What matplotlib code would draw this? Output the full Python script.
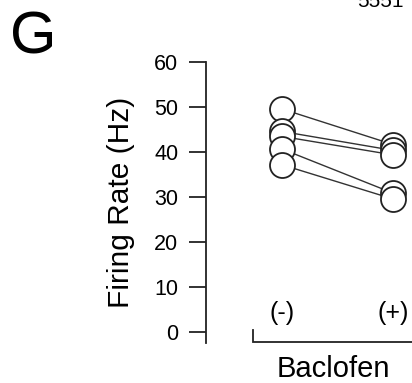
import numpy as np
import matplotlib.pyplot as plt

plt.rcParams['font.family'] = ['Liberation Sans', 'DejaVu Sans']

# Firing rate (Hz) per cell, before / after baclofen
before = [49.5, 44.5, 43.4, 40.6, 37.1]
after = [41.6, 40.3, 39.3, 30.8, 29.5]
conditions = ['(-)', '(+)']
yticks = [0, 10, 20, 30, 40, 50, 60]

W, H = 412, 383
fig = plt.figure(figsize=(W / 100, H / 100), dpi=100)

# axes placed in pixel terms (left/top of image)
left_px, right_px, top_px, bot_px = 206, 412, 61.7, 343
ax = fig.add_axes([left_px / W, (H - bot_px) / H,
                   (right_px - left_px) / W, (bot_px - top_px) / H])

xpos = np.arange(len(conditions))
for b, a in zip(before, after):
    ax.plot(xpos, [b, a], color='#333333', lw=1.0, zorder=2)
    ax.plot(xpos, [b, a], ls='none', marker='o', ms=18, mfc='white',
            mec='#222222', mew=1.3, zorder=3, clip_on=False)

ax.set_xlim(-0.685, 1.171)
ax.set_ylim(-2.5, 60)
ax.set_yticks(yticks)
ax.tick_params(axis='y', direction='out', length=12, width=1.3,
               labelsize=15.5, pad=8, color='#222222')
ax.set_xticks([])
for s in ['top', 'right', 'bottom']:
    ax.spines[s].set_visible(False)
ax.spines['left'].set_linewidth(1.3)
ax.spines['left'].set_color('#222222')
ax.set_ylabel('Firing Rate (Hz)', fontsize=21.5, labelpad=14)

# condition labels above the x bracket
for x, lab in zip(xpos, conditions):
    ax.text(x, 4.2, lab, fontsize=18, ha='center', va='center')

# x bracket
ax.plot([-0.26, -0.26, 1.4], [0.3, -2.2, -2.2], color='#222222', lw=1.3,
        clip_on=False, solid_joinstyle='miter')

fig.text(333.5 / W, (H - 377) / H, 'Baclofen', fontsize=21, ha='center',
         va='baseline')
fig.text(10 / W, (H - 53) / H, 'G', fontsize=43, ha='left', va='baseline')
fig.text(357 / W, (H - 7) / H, '5551', fontsize=15, ha='left', va='baseline')

fig.savefig('out.png', dpi=100)
